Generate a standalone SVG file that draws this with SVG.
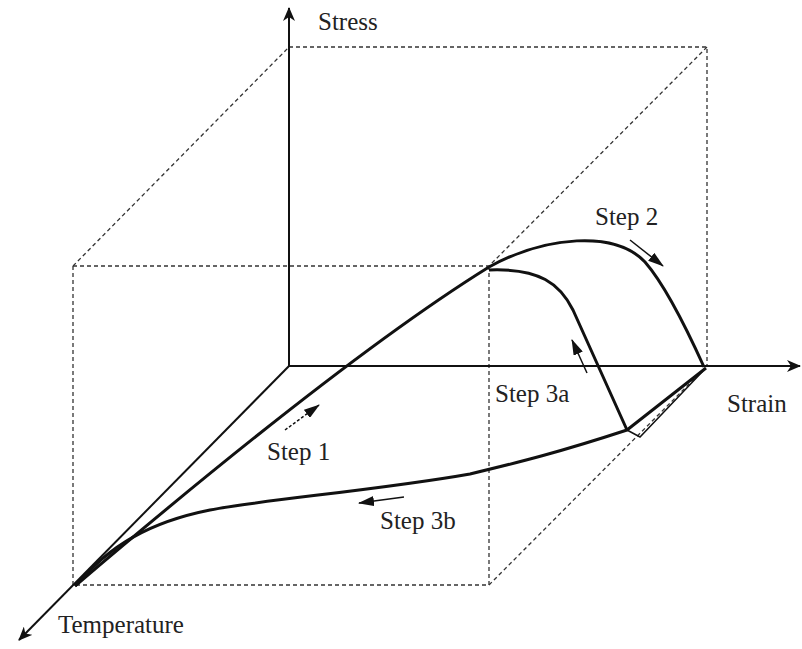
<svg xmlns="http://www.w3.org/2000/svg" width="802" height="649" viewBox="0 0 802 649">
<style>
.dash{fill:none;stroke:#333;stroke-width:1.3;stroke-dasharray:4 3}
.axis{fill:none;stroke:#111;stroke-width:2}
.curve{fill:none;stroke:#111;stroke-width:3;stroke-linejoin:round}
.thin{fill:none;stroke:#111;stroke-width:1.5}
text{font-family:Liberation Serif, Times New Roman, Times, serif;font-size:25px;fill:#222}
</style>
<defs>
<marker id="ax" markerWidth="14" markerHeight="12" refX="13" refY="6" orient="auto" markerUnits="userSpaceOnUse">
<path d="M0,0 L14,6 L0,12 L4,6 Z" fill="#111"/>
</marker>
<marker id="sm" markerWidth="16" markerHeight="10" refX="15" refY="5" orient="auto" markerUnits="userSpaceOnUse">
<path d="M0,0 L16,5 L0,10 Z" fill="#111"/>
</marker>
</defs>
<rect width="802" height="649" fill="#fff"/>
<g id="box">
<path class="dash" d="M289,47 L707,47 L707,366"/>
<path class="dash" d="M73,266 L289,47"/>
<path class="dash" d="M73,266 L489,266 L707,47"/>
<path class="dash" d="M73,266 L73,585 L489,585 L489,266"/>
<path class="dash" d="M489,585 L707,366"/>
</g>
<g id="axes">
<line class="axis" x1="289" y1="366" x2="289" y2="8" marker-end="url(#ax)"/>
<line class="axis" x1="289" y1="366" x2="800" y2="366" marker-end="url(#ax)"/>
<line class="axis" x1="289" y1="366" x2="19" y2="640" marker-end="url(#ax)"/>
</g>
<g id="connectors">
<path id="step1" class="curve" d="M75,586 Q344,357 489,267"/>
<path id="step2" class="curve" d="M489,267 C545,236 615,230 645,262 C665,285 685,325 704,367"/>
<path id="step3a" class="curve" d="M489,270 C540,268 560,284 573,310 L627,430"/>
<path id="step3b" class="curve" d="M706,368 L627,430 C560,452 520,462 470,474 C380,490 260,500 210,510 C150,522 110,545 75,586"/>
<path class="thin" d="M703,371 L640,437 L627,430"/>
<line class="thin" x1="630" y1="240" x2="663" y2="266" marker-end="url(#sm)"/>
<line class="thin" x1="587" y1="373" x2="572" y2="340" marker-end="url(#sm)"/>
<line class="thin" x1="285" y1="430" x2="319" y2="405" stroke-dasharray="3 2" marker-end="url(#sm)"/>
<line class="thin" x1="404" y1="497" x2="359" y2="503" marker-end="url(#sm)"/>
</g>
<g id="labels">
<text x="318" y="30">Stress</text>
<text x="595" y="225">Step 2</text>
<text x="495" y="402">Step 3a</text>
<text x="727" y="412">Strain</text>
<text x="267" y="460">Step 1</text>
<text x="380" y="529">Step 3b</text>
<text x="58" y="633">Temperature</text>
</g>
</svg>
